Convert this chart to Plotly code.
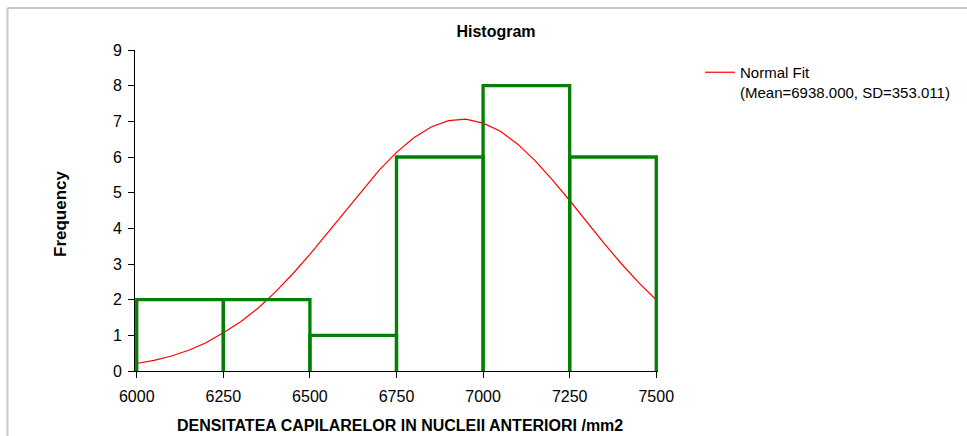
import plotly.graph_objects as go

# Histogram bins (edges) and counts
bin_left = [6000, 6250, 6500, 6750, 7000, 7250]
bin_right = [6250, 6500, 6750, 7000, 7250, 7500]
counts = [2, 2, 1, 6, 8, 6]

# Normal fit curve
fit_x = [6000, 6050, 6100, 6150, 6200, 6250, 6300, 6350, 6400, 6450, 6500,
         6550, 6600, 6650, 6700, 6750, 6800, 6850, 6900, 6950, 7000,
         7050, 7100, 7150, 7200, 7250, 7300, 7350, 7400, 7450, 7500]
fit_y = [0.21, 0.30, 0.42, 0.58, 0.79, 1.07, 1.38, 1.76, 2.21, 2.72, 3.27,
         3.86, 4.46, 5.06, 5.63, 6.13, 6.54, 6.84, 7.02, 7.06, 6.95,
         6.72, 6.36, 5.90, 5.36, 4.78, 4.17, 3.57, 3.00, 2.47, 1.99]

x_ticks = [6000, 6250, 6500, 6750, 7000, 7250, 7500]
y_ticks = [0, 1, 2, 3, 4, 5, 6, 7, 8, 9]

# Build rectangle outlines (sides + top) for the bins
rx, ry = [], []
for l, r, c in zip(bin_left, bin_right, counts):
    rx += [l, l, r, r, None]
    ry += [0, c, c, 0, None]

GREEN = "#058005"
fig = go.Figure()
fig.add_trace(go.Scatter(x=fit_x, y=fit_y, mode="lines",
                         line=dict(color="#ff0000", width=1.2),
                         name="Normal Fit<br>(Mean=6938.000, SD=353.011)"))
fig.add_trace(go.Scatter(x=rx, y=ry, mode="lines",
                         line=dict(color=GREEN, width=3.3),
                         showlegend=False, hoverinfo="skip"))

# plot area (px): small padding on x so the outer bin edges are not clipped
L, T, W, H = 135, 50, 523, 321
font_family = "Liberation Sans, Arial, sans-serif"
fig.update_layout(
    width=967, height=436,
    margin=dict(l=L, r=967 - L - W, t=T, b=436 - T - H, autoexpand=False),
    paper_bgcolor="white", plot_bgcolor="white",
    font=dict(family=font_family, color="black", size=16),
    title=dict(text="<b>Histogram</b>", x=(496 - L) / W, xref="paper",
               xanchor="center", y=1 - 31 / 436, yanchor="middle",
               font=dict(size=16)),
    xaxis=dict(range=[5995, 7505], tickvals=x_ticks, ticks="outside",
               ticklen=6, tickcolor="black", showline=True, linecolor="black",
               linewidth=1, showgrid=False, zeroline=False, automargin=False,
               ticklabelstandoff=5, tickfont=dict(size=16)),
    yaxis=dict(range=[0, 9], tickvals=y_ticks, ticks="outside",
               ticklen=6, tickcolor="black", showline=True, linecolor="black",
               linewidth=1, showgrid=False, zeroline=False, automargin=False,
               ticklabelstandoff=3, tickfont=dict(size=16)),
    legend=dict(x=(700 - L) / W, xanchor="left", y=(T + H - 56) / H,
                yanchor="top", bgcolor="rgba(0,0,0,0)", valign="top",
                font=dict(size=15), itemwidth=30, tracegroupgap=0),
    showlegend=True,
    annotations=[
        dict(text="<b>DENSITATEA CAPILARELOR IN NUCLEII ANTERIORI /mm2</b>",
             xref="paper", yref="paper", x=(400 - L) / W, y=(T + H - 426) / H,
             xanchor="center", yanchor="middle", showarrow=False,
             font=dict(size=16)),
        dict(text="<b>Frequency</b>", textangle=-90,
             xref="paper", yref="paper", x=(60 - L) / W, y=(T + H - 214) / H,
             xanchor="center", yanchor="middle", showarrow=False,
             font=dict(size=17)),
    ],
    shapes=[
        dict(type="line", xref="paper", yref="paper",
             x0=(7.5 - L) / W, x1=(967 - L) / W,
             y0=(T + H - 8) / H, y1=(T + H - 8) / H,
             line=dict(color="#c8c8c8", width=2)),
        dict(type="line", xref="paper", yref="paper",
             x0=(7.5 - L) / W, x1=(7.5 - L) / W,
             y0=(T + H - 8) / H, y1=(T + H - 436) / H,
             line=dict(color="#c8c8c8", width=2)),
    ],
)

fig.write_html("out.html", config={"displayModeBar": False},
               post_script="document.body.style.margin='0';document.body.style.overflow='hidden';")
